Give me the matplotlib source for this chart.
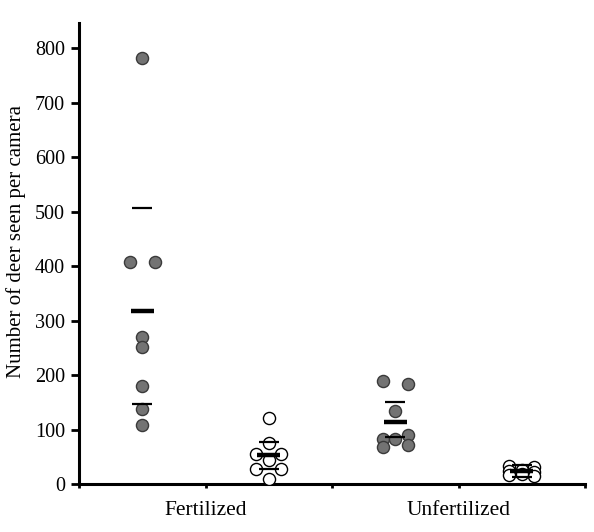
import matplotlib as mpl
mpl.use('Agg')
import matplotlib.pyplot as plt

plt.rcParams['font.family'] = ['Liberation Serif', 'DejaVu Serif']

# group centres on the x axis
centers = [0.5, 1.5, 2.5, 3.5]
filled = [True, False, True, False]

# counts per camera
fert_filled = [783, 408, 408, 270, 252, 180, 138, 108]
fert_filled_off = [0, -1, 1, 0, 0, 0, 0, 0]
fert_open = [121, 75, 55, 55, 44, 28, 28, 9]
fert_open_off = [0, 0, -1, 1, 0, -1, 1, 0]
unf_filled = [189, 184, 134, 83, 83, 90, 68, 72]
unf_filled_off = [-1, 1, 0, -1, 0, 1, -1, 1]
unf_open = [33, 31, 24, 26, 22, 16, 15, 19]
unf_open_off = [-1, 1, -1, 0, 1, -1, 1, 0]

means = [318, 53, 114, 23]
ci_low = [147, 28, 86, 12]
ci_high = [507, 77, 151, 35]

groups = [(fert_filled, fert_filled_off), (fert_open, fert_open_off),
          (unf_filled, unf_filled_off), (unf_open, unf_open_off)]

fig = plt.figure(figsize=(5.94, 5.32), dpi=100)
ax = fig.add_axes([0.133, 0.0902, 0.852, 0.867])

for i, (vals, offs) in enumerate(groups):
    xs = [centers[i] + 0.1 * o for o in offs]
    if filled[i]:
        ax.scatter(xs, vals, s=76, facecolor='#737373', edgecolor='#3a3a3a', linewidth=1.0, zorder=3)
    else:
        ax.scatter(xs, vals, s=76, facecolor='white', edgecolor='black', linewidth=1.0, zorder=3)
    c = centers[i]
    ax.plot([c - 0.09, c + 0.09], [means[i], means[i]], color='black', lw=3.2, zorder=4, solid_capstyle='butt')
    ax.plot([c - 0.08, c + 0.08], [ci_low[i], ci_low[i]], color='black', lw=1.6, zorder=4, solid_capstyle='butt')
    ax.plot([c - 0.08, c + 0.08], [ci_high[i], ci_high[i]], color='black', lw=1.6, zorder=4, solid_capstyle='butt')

ax.set_xlim(0, 4)
ax.set_ylim(0, 847)
ax.set_yticks(range(0, 801, 100))
ax.set_xticks([0, 1, 2, 3, 4])
ax.set_xticklabels(['', 'Fertilized', '', 'Unfertilized', ''])
ax.tick_params(axis='y', direction='out', length=6, width=2, labelsize=14.5, pad=4)
ax.tick_params(axis='x', direction='out', length=3, width=2, labelsize=15.5, pad=9)
for s in ['top', 'right']:
    ax.spines[s].set_visible(False)
for s in ['left', 'bottom']:
    ax.spines[s].set_linewidth(2.2)
ax.set_ylabel('Number of deer seen per camera', fontsize=15)
ax.yaxis.set_label_coords(-0.105, 0.525)

plt.savefig('out.png', dpi=100)
